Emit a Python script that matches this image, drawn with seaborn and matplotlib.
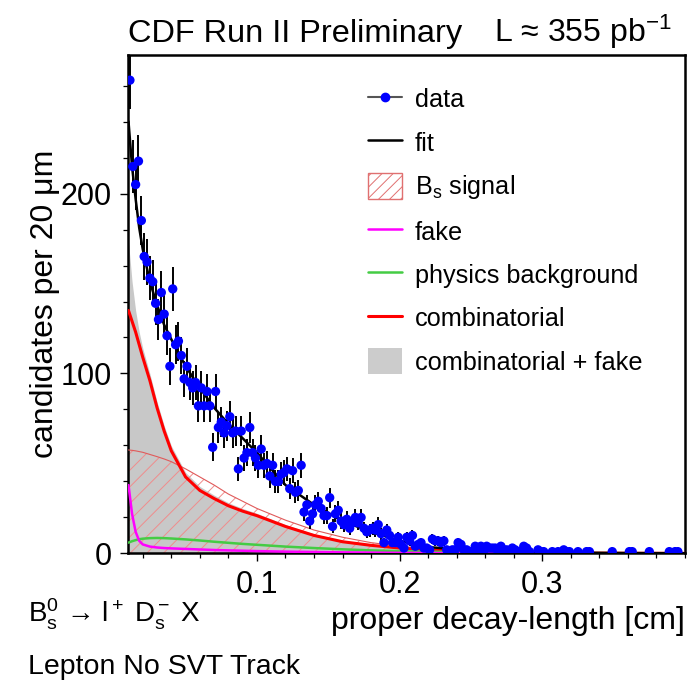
import numpy as np
import pandas as pd
import matplotlib
matplotlib.use("Agg")
import matplotlib.pyplot as plt
import seaborn as sns
from matplotlib.lines import Line2D
from matplotlib.patches import Patch
from matplotlib.ticker import MultipleLocator

# ---------------- data ----------------
bin_low = 0.010      # cm, first bin edge
bin_width = 0.002    # cm (20 um)

counts = [
    263, 215, 205, 218, 185, 165, 162, 153, 151, 139,
    130, 145, 133, 121, 104, 147, 116, 118, 110, 97,
    104, 95, 92, 95, 82, 92, 82, 90, 82, 59,
    90, 70, 73, 67, 71, 76, 67, 68, 47, 68,
    53, 56, 70, 56, 53, 49, 58, 49, 50, 43,
    49, 40, 40, 44, 45, 47, 36, 46, 34, 35,
    49, 23, 27, 18, 22, 27, 29, 25, 21, 21,
    31, 15, 22, 24, 18, 16, 19, 14, 17, 20,
    17, 20, 14, 12, 13, 14, 13, 16, 11, 6,
    13, 10, 6, 6, 9, 5, 3, 9, 7, 10,
    4, 5,
    6, 3, 3, 2, 8, 7, 7, 6, 7, 2,
    1, 2, 2, 6, 5, 2, 2, 1, 1, 4,
    2, 4, 1, 4, 3, 3, 3, 1, 4, 2,
    2, 1, 3, 2, 1, 1, 4, 3, 1, 0,
    0, 2, 1, 1, 0, 0, 1, 0, 1, 0,
    2, 1, 1, 0, 0, 1, 0, 0, 1, 1,
    0, 0, 0, 0, 0, 0, 0, 1, 0, 0,
    0, 0, 0, 1, 1, 0, 0, 0, 0, 0,
    1, 0, 0, 0, 0, 0, 0, 1, 0, 1,
    1, 0, 0,
]

curve_x = [0.010, 0.0125, 0.015, 0.0175, 0.020, 0.025, 0.030, 0.035, 0.040,
           0.050, 0.060, 0.070, 0.080, 0.090, 0.100, 0.120, 0.140, 0.160,
           0.180, 0.200, 0.220, 0.250, 0.280, 0.320, 0.360, 0.400]
fit_curve = [240, 215, 197, 181, 169, 151, 138, 127, 119, 104, 92, 81, 72, 64,
             56, 38, 27, 18, 12, 7, 3.5, 1.8, 0.9, 0.4, 0.2, 0.1]
signal_curve = [57.5, 57.3, 57.0, 56.6, 56.2, 55.0, 53.8, 52.5, 51.0, 47.0,
                42.5, 38.0, 33.0, 29.0, 25.0, 18.5, 13.0, 9.0, 6.0, 4.0, 2.5,
                1.2, 0.5, 0.2, 0.05, 0.02]
fake_curve = [38, 22, 12, 7, 5, 3.8, 3.3, 3.0, 2.8, 2.5, 2.2, 1.9, 1.7, 1.5,
              1.3, 1.0, 0.8, 0.6, 0.45, 0.35, 0.25, 0.15, 0.1, 0.05, 0.03, 0.02]
physics_curve = [6.0, 6.8, 7.4, 7.9, 8.2, 8.5, 8.6, 8.5, 8.3, 7.8, 7.2, 6.5,
                 5.9, 5.3, 4.8, 3.8, 3.0, 2.3, 1.7, 1.3, 1.0, 0.6, 0.4, 0.2,
                 0.1, 0.05]
comb_curve = [135, 129, 123, 116, 109, 96, 81, 68, 57, 42.5, 35, 30.5, 26.5,
              23.5, 21, 15, 10, 6.5, 4.5, 3.0, 2.0, 1.1, 0.6, 0.25, 0.1, 0.05]

xticks = [0.1, 0.2, 0.3]
xtick_labels = ["0.1", "0.2", "0.3"]
yticks = [0, 100, 200]
ytick_labels = ["0", "100", "200"]

# ---------------- style ----------------
sns.set_theme(style="ticks")
plt.rcParams.update({
    "font.family": ["Liberation Sans", "DejaVu Sans"],
    "mathtext.fontset": "custom",
    "mathtext.rm": "Liberation Sans",
    "mathtext.it": "Liberation Sans:italic",
    "mathtext.bf": "Liberation Sans:bold",
    "hatch.linewidth": 0.7,
    "axes.linewidth": 1.8,
    "axes.edgecolor": "black",
    "axes.labelcolor": "black",
    "text.color": "black",
    "xtick.color": "black",
    "ytick.color": "black",
    "xtick.labelcolor": "black",
    "ytick.labelcolor": "black",
})

n = np.asarray(counts, dtype=float)
centers = bin_low + bin_width * (np.arange(len(n)) + 0.5)
df = pd.DataFrame({"x": centers, "n": n})
shown = df[df["n"] > 0]

cx = np.asarray(curve_x)
comb = np.asarray(comb_curve)
fake = np.asarray(fake_curve)
sig = np.asarray(signal_curve)

fig = plt.figure(figsize=(6.89, 6.83), dpi=100)
ax = fig.add_axes([0.1865, 0.1897, 0.8077, 0.7298])

# combinatorial + fake (gray)
ax.fill_between(cx, comb + fake, color="#c8c8c8", lw=0, zorder=1)
# B_s signal hatched
ax.fill_between(cx, sig, facecolor="none", edgecolor="#f08c8c", hatch="//",
                lw=0, zorder=2)
sns.lineplot(x=cx, y=sig, color="#e05a5a", lw=0.8, ax=ax, zorder=3)
sns.lineplot(x=cx, y=comb, color="#ff0000", lw=2.2, ax=ax, zorder=4)
sns.lineplot(x=cx, y=np.asarray(physics_curve), color="#44cc44", lw=1.8, ax=ax, zorder=4)
sns.lineplot(x=cx, y=fake, color="#ff00ff", lw=1.8, ax=ax, zorder=4)
sns.lineplot(x=cx, y=np.asarray(fit_curve), color="black", lw=1.8, ax=ax, zorder=5)

ax.errorbar(shown["x"], shown["n"], yerr=np.sqrt(shown["n"]), fmt="none",
            ecolor="black", elinewidth=1.4, capsize=0, zorder=6)
sns.scatterplot(data=shown, x="x", y="n", color="#0000ff", s=45,
                edgecolor="none", ax=ax, zorder=7)

ax.set_xlim(0.010, 0.400)
ax.set_ylim(0, 277)
ax.set_xticks(xticks)
ax.set_xticklabels(xtick_labels)
ax.set_yticks(yticks)
ax.set_yticklabels(ytick_labels)
ax.xaxis.set_minor_locator(MultipleLocator(0.02))
ax.yaxis.set_minor_locator(MultipleLocator(20))
ax.tick_params(which="major", direction="out", length=6, width=1.0,
               labelsize=22, pad=6, top=False, right=False)
ax.tick_params(which="minor", direction="out", length=3.5, width=0.9,
               top=False, right=False)
for s in ax.spines.values():
    s.set_linewidth(1.8)
    s.set_color("black")

ax.set_xlabel("proper decay-length [cm]", fontsize=23, loc="right", color="black")
ax.xaxis.set_label_coords(1.0, -0.106)
ax.set_ylabel("candidates per 20 μm", fontsize=23, color="black")
ax.yaxis.set_label_coords(-0.123, 0.5)

handles = [
    Line2D([], [], color="#555555", lw=1.5, marker="o", markersize=6,
           markerfacecolor="#0000ff", markeredgecolor="#0000ff"),
    Line2D([], [], color="black", lw=1.8),
    Patch(facecolor="white", edgecolor="#e07070", hatch="///", lw=1.0),
    Line2D([], [], color="#ff00ff", lw=1.8),
    Line2D([], [], color="#44cc44", lw=1.8),
    Line2D([], [], color="#ff0000", lw=2.2),
    Patch(facecolor="#cccccc", edgecolor="none"),
]
labels = ["data", "fit", r"$\mathregular{B_s}$ signal", "fake",
          "physics background", "combinatorial", "combinatorial + fake"]
ax.legend(handles, labels, loc="upper left", bbox_to_anchor=(0.43, 0.938),
          frameon=False, fontsize=18.2, handlelength=1.35, handleheight=1.2,
          handletextpad=0.5, labelspacing=0.67, borderaxespad=0, borderpad=0)

fig.text(128 / 689, 1 - 42 / 683, "CDF Run II Preliminary", fontsize=23.4,
         ha="left", va="baseline")
fig.text(672 / 689, 1 - 42 / 683, r"L ≈ 355 pb$^{\mathregular{-1}}$", fontsize=23,
         ha="right", va="baseline")
fig.text(28 / 689, 1 - 622 / 683,
         r"$\mathregular{B_s^0}$ → $\mathregular{l^+}$ $\mathregular{D_s^-}$ X",
         fontsize=20, ha="left", va="baseline")
fig.text(28 / 689, 1 - 674 / 683, "Lepton No SVT Track", fontsize=20.5,
         ha="left", va="baseline")

fig.savefig("out.png", dpi=100)
